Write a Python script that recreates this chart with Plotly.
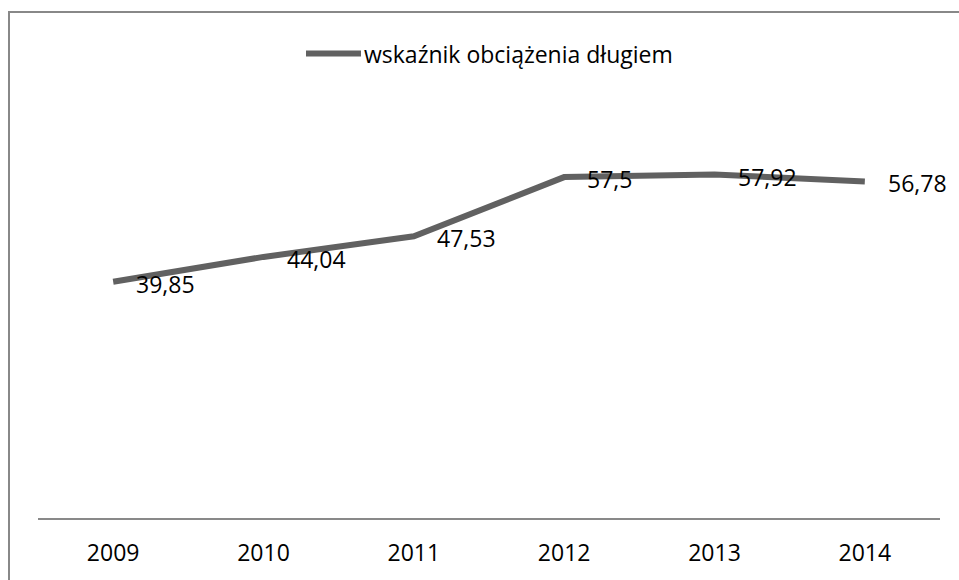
import plotly.graph_objects as go

years = ["2009", "2010", "2011", "2012", "2013", "2014"]
values = [39.85, 44.04, 47.53, 57.5, 57.92, 56.78]
series_name = "wskaźnik obciążenia długiem"

FONT = "Open Sans"
LINE_COLOR = "#616161"

W, H = 959, 580
ML, MR, MT, MB = 38, 19, 103, 57
PW = W - ML - MR
PH = H - MT - MB

fig = go.Figure()
fig.add_trace(go.Scatter(
    x=years, y=values, mode="lines", name=series_name,
    line=dict(color=LINE_COLOR, width=6),
    showlegend=False, hoverinfo="skip",
))

for i, v in enumerate(values):
    fig.add_annotation(
        x=i, y=v, text=f"{v:g}".replace(".", ","),
        xanchor="left", yanchor="middle", xshift=21, yshift=-2,
        showarrow=False, font=dict(family=FONT, size=23, color="#000000"),
    )

def px_x(p):
    return (p - ML) / PW

def px_y(p):
    return (H - MB - p) / PH

# manual legend
fig.add_shape(type="line", xref="paper", yref="paper",
              x0=px_x(306), x1=px_x(361), y0=px_y(53), y1=px_y(53),
              line=dict(color=LINE_COLOR, width=6))
fig.add_annotation(xref="paper", yref="paper", x=px_x(362), y=px_y(53),
                   text=series_name, xanchor="left", yanchor="middle",
                   showarrow=False, font=dict(family=FONT, size=23, color="#000000"))

# chart border
fig.add_shape(type="rect", xref="paper", yref="paper",
              x0=px_x(9), x1=px_x(975), y0=px_y(11), y1=px_y(600),
              line=dict(color="#888888", width=2), layer="above")

fig.update_layout(
    width=W, height=H,
    margin=dict(l=ML, r=MR, t=MT, b=MB),
    paper_bgcolor="white", plot_bgcolor="white",
    font=dict(family=FONT, size=23, color="#000000"),
    xaxis=dict(
        type="category", categoryorder="array", categoryarray=years,
        range=[-0.5, len(years) - 0.5], autorange=False,
        showline=True, linecolor="#898989", linewidth=2,
        showgrid=False, ticks="", zeroline=False, ticklabelstandoff=13,
        tickfont=dict(family=FONT, size=23, color="#000000"),
    ),
    yaxis=dict(range=[0, 70], visible=False, showgrid=False, zeroline=False),
)

fig.write_html("out.html", config={"displayModeBar": False},
               post_script="document.body.style.margin='0';")
